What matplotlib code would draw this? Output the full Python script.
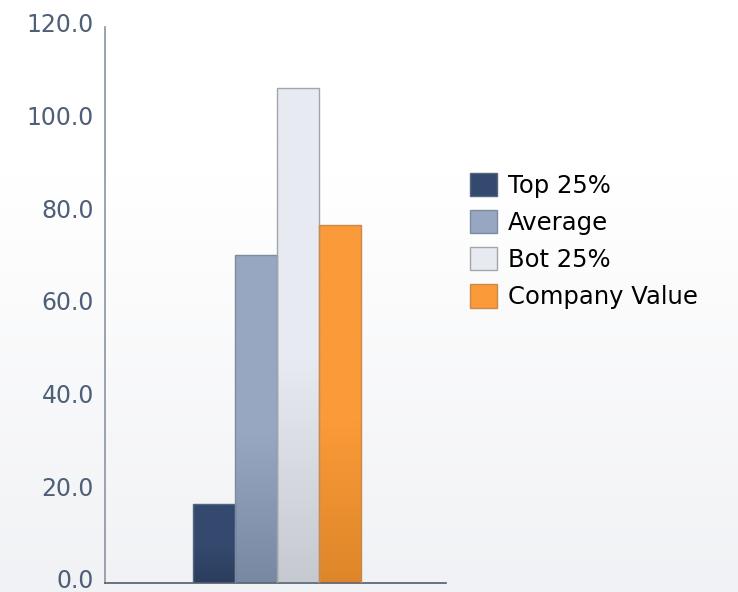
import numpy as np
import matplotlib
matplotlib.use("Agg")
import matplotlib.pyplot as plt
from matplotlib.colors import to_rgb
from matplotlib.patches import Patch
from matplotlib.transforms import ScaledTranslation

series = ["Top 25%", "Average", "Bot 25%", "Company Value"]
values = [17.1, 70.8, 106.9, 77.3]
y_ticks = [0, 20, 40, 60, 80, 100, 120]

# (top colour, bottom colour, edge colour)
STYLES = [
    ("#34496e", "#2c3d5c", "#55657e"),
    ("#97a7c1", "#7888a2", "#7d8ba0"),
    ("#e7ebf1", "#c6cad0", "#a2a6ab"),
    ("#fb9a38", "#dd8629", "#c88a4a"),
]


def _gradient(top, bottom, n=256, knee=0.55):
    # flat colour in the upper part, fading to the darker colour at the base
    t = np.linspace(0, 1, n)
    w = np.clip((t - knee) / (1 - knee), 0, 1)[:, None]
    c0, c1 = np.array(to_rgb(top)), np.array(to_rgb(bottom))
    img = c0 * (1 - w) + c1 * w
    return img[:, None, :]


fig = plt.figure(figsize=(7.38, 5.92), dpi=100)

# soft background gradient
bg = fig.add_axes([0, 0, 1, 1], zorder=-5)
bg.imshow(_gradient("#ffffff", "#f1f2f5", knee=0.3), aspect="auto",
          extent=[0, 1, 0, 1])
bg.set_axis_off()

ax = fig.add_axes([105 / 738, 9 / 592, (446 - 105) / 738, (583 - 27) / 592])
ax.patch.set_alpha(0)

width = 0.123
offsets = (np.arange(len(series)) - (len(series) - 1) / 2) * width
bars = ax.bar(offsets + 0.005, values, width=width, facecolor="none",
              edgecolor=[s[2] for s in STYLES], linewidth=1.0, zorder=3)
for rect, (top, bottom, _) in zip(bars, STYLES):
    x0, h = rect.get_x(), rect.get_height()
    im = ax.imshow(_gradient(top, bottom), aspect="auto",
                   extent=[x0, x0 + width, 0, h], zorder=2)
    im.set_clip_path(rect)

ax.set_xlim(-0.5, 0.5)
ax.set_ylim(0, 120)
ax.set_yticks(y_ticks)
ax.set_yticklabels([f"{v:.1f}" for v in y_ticks])
ax.set_xticks([])
ax.tick_params(axis="y", length=0, pad=8, labelsize=17, labelcolor="#4f5f78")
shift = ScaledTranslation(0, 3 / 72, fig.dpi_scale_trans)
for lbl in ax.get_yticklabels():
    lbl.set_transform(lbl.get_transform() + shift)
for s in ("top", "right"):
    ax.spines[s].set_visible(False)
ax.spines["left"].set_color("#8a94a2")
ax.spines["bottom"].set_color("#4f5b6e")
ax.spines["left"].set_linewidth(1.2)
ax.spines["bottom"].set_linewidth(1.2)

handles = [Patch(facecolor=s[0], edgecolor=s[2], label=n)
           for s, n in zip(STYLES, series)]
fig.legend(handles=handles, loc="upper left",
           bbox_to_anchor=(470 / 738, 1 - 173 / 592),
           frameon=False, fontsize=17.5, handlelength=1.1, handleheight=1.1,
           handletextpad=0.45, labelspacing=0.5, borderaxespad=0,
           borderpad=0)

fig.savefig("out.png", dpi=100)
